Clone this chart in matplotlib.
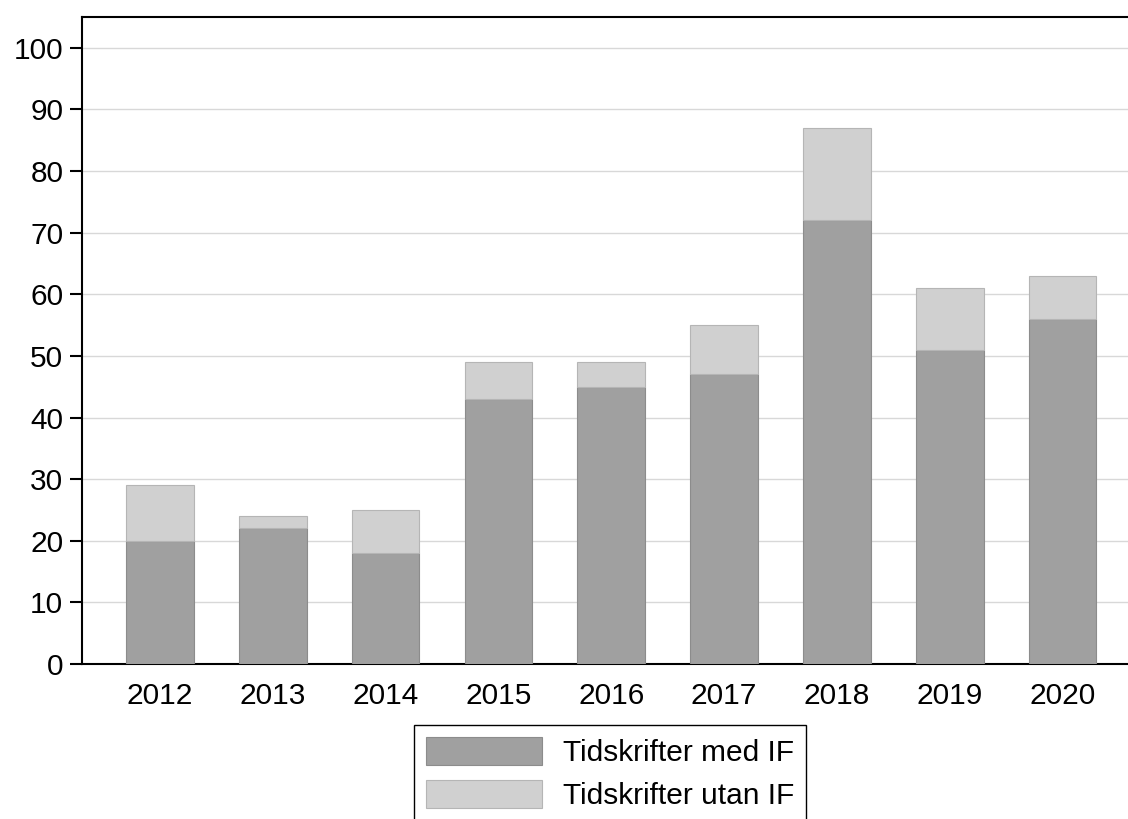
import matplotlib.pyplot as plt
import numpy as np

years = ["2012", "2013", "2014", "2015", "2016", "2017", "2018", "2019", "2020"]
med_if = [20, 22, 18, 43, 45, 47, 72, 51, 56]
utan_if = [9, 2, 7, 6, 4, 8, 15, 10, 7]

plt.rcParams["font.family"] = ["Liberation Sans", "DejaVu Sans"]

fig = plt.figure(figsize=(11.28, 8.19), dpi=100)
ax = fig.add_axes([82 / 1128, 1 - 664 / 819, 1 - 82 / 1128 + 0.01, (664 - 17) / 819])

x = np.arange(len(years))
ax.bar(x, med_if, width=0.6, color="#a0a0a0", edgecolor="#8c8c8c", linewidth=0.8,
       label="Tidskrifter med IF", zorder=3)
ax.bar(x, utan_if, width=0.6, bottom=med_if, color="#d0d0d0", edgecolor="#b5b5b5",
       linewidth=0.8, label="Tidskrifter utan IF", zorder=3)

ax.set_xlim(-0.69, 8.68)
ax.set_ylim(0, 105)
ax.set_yticks(range(0, 101, 10))
ax.set_xticks(x)
ax.set_xticklabels(years)
ax.yaxis.grid(True, color="#d8d8d8", linewidth=1.0, zorder=0)
ax.set_axisbelow(True)

for s in ["left", "bottom", "top"]:
    ax.spines[s].set_linewidth(1.5)
    ax.spines[s].set_color("black")
ax.spines["right"].set_visible(False)

ax.tick_params(axis="y", length=8.5, width=1.5, pad=5, labelsize=21.5)
ax.tick_params(axis="x", length=0, pad=13, labelsize=21.5)

fig.legend(loc="upper center", bbox_to_anchor=(610 / 1128, 1 - 725 / 819),
           fontsize=21.5, frameon=True, fancybox=False, edgecolor="black",
           framealpha=1, handlelength=3.9, handleheight=1.05, handletextpad=0.7,
           labelspacing=0.45, borderpad=0.4, borderaxespad=0)

fig.savefig("out.png", dpi=100)
plt.close(fig)
